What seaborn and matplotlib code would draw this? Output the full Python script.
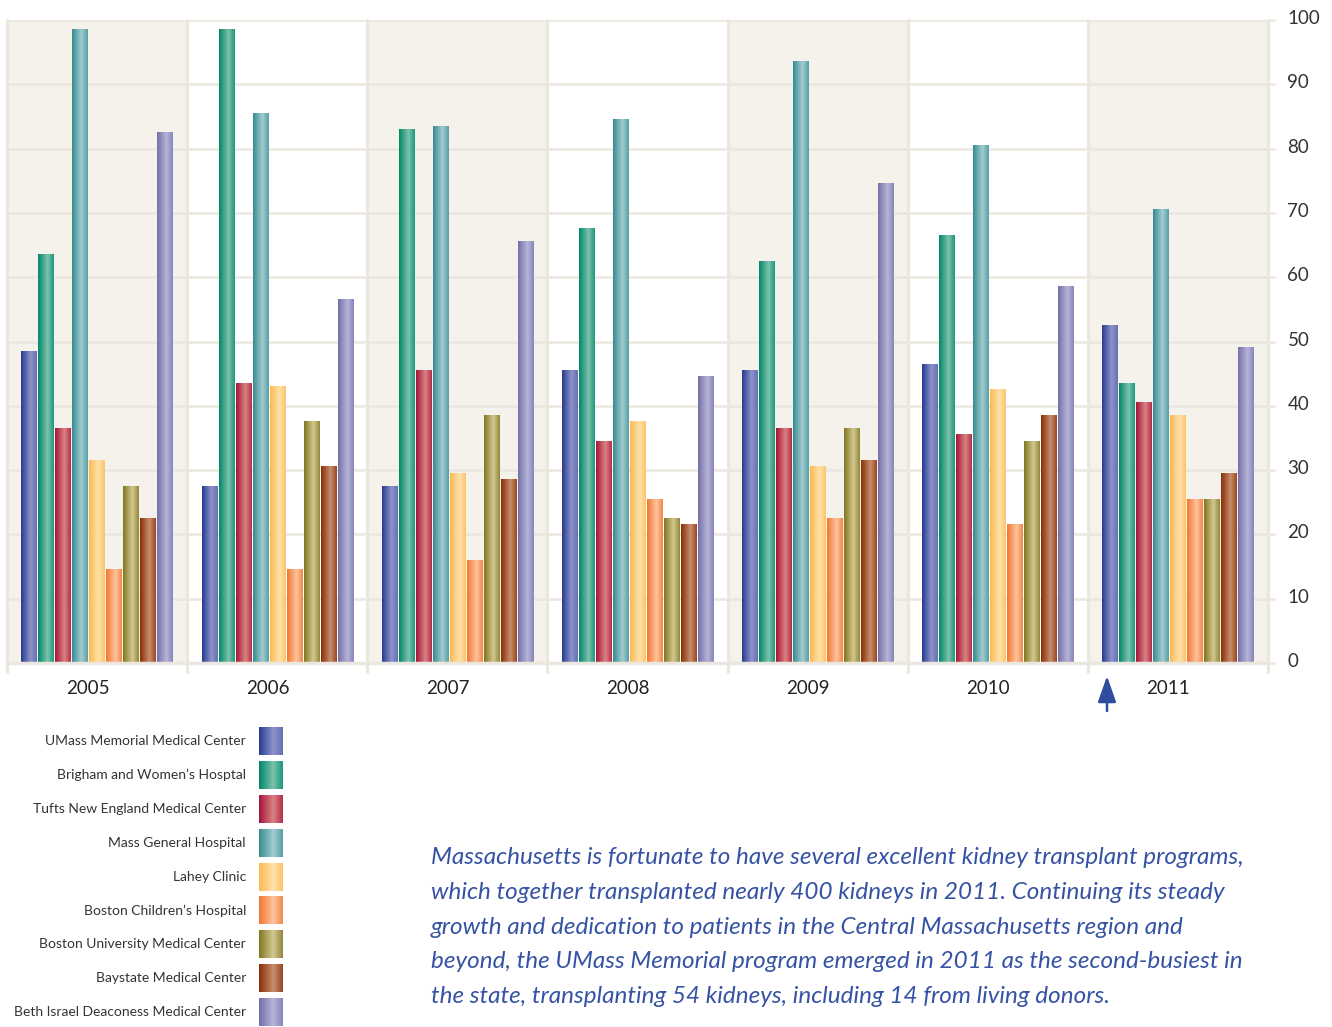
import numpy as np
import pandas as pd
import matplotlib
matplotlib.use('Agg')
import matplotlib.pyplot as plt
import matplotlib.transforms as mtransforms
from matplotlib.colors import LinearSegmentedColormap
import seaborn as sns

# --- data (kidney transplants per centre) ---
years = ['2005', '2006', '2007', '2008', '2009', '2010', '2011']
centers = [
    'UMass Memorial Medical Center',
    'Brigham and Women\u2019s Hosptal',
    'Tufts New England Medical Center',
    'Mass General Hospital',
    'Lahey Clinic',
    'Boston Children\u2019s Hospital',
    'Boston University Medical Center',
    'Baystate Medical Center',
    'Beth Israel Deaconess Medical Center',
]
umass = [48.5, 27.5, 27.5, 45.5, 45.5, 46.5, 52.5]
brigham = [63.5, 98.5, 83, 67.5, 62.5, 66.5, 43.5]
tufts = [36.5, 43.5, 45.5, 34.5, 36.5, 35.5, 40.5]
mgh = [98.5, 85.5, 83.5, 84.5, 93.5, 80.5, 70.5]
lahey = [31.5, 43, 29.5, 37.5, 30.5, 42.5, 38.5]
childrens = [14.5, 14.5, 16, 25.5, 22.5, 21.5, 25.5]
bu = [27.5, 37.5, 38.5, 22.5, 36.5, 34.5, 25.5]
baystate = [22.5, 30.5, 28.5, 21.5, 31.5, 38.5, 29.5]
bidmc = [82.5, 56.5, 65.5, 44.5, 74.5, 58.5, 49]
series = [umass, brigham, tufts, mgh, lahey, childrens, bu, baystate, bidmc]

y_ticks = [0, 10, 20, 30, 40, 50, 60, 70, 80, 90, 100]

# (dark edge, light centre, right edge) for the metallic bar look
shades = [
    ('#263b92', '#8e93c9', '#6670b5'),
    ('#00876b', '#7ec2ac', '#1c987e'),
    ('#a6143a', '#d98383', '#b52e49'),
    ('#378b93', '#a2cdd0', '#589fa6'),
    ('#fcba52', '#ffe2ab', '#fdc46a'),
    ('#f37630', '#fdc49e', '#f58949'),
    ('#82771f', '#d3c991', '#928839'),
    ('#873005', '#c98d6d', '#984822'),
    ('#7470a8', '#b6b4d7', '#8885b9'),
]
cmaps = [LinearSegmentedColormap.from_list('s%d' % i, [(0, a), (0.6, b), (1, c)])
         for i, (a, b, c) in enumerate(shades)]

BAND = '#f5f2ec'
GRID = '#ebe7df'
TEXT = '#333333'
BLUE = '#3552a4'

rows = []
for name, vals in zip(centers, series):
    for yr, v in zip(years, vals):
        rows.append({'year': yr, 'center': name, 'kidneys': v})
df = pd.DataFrame(rows)

sns.set_style('white')
plt.rcParams['font.family'] = ['Lato', 'DejaVu Sans']

W, H = 1332, 1027
fig = plt.figure(figsize=(W / 100, H / 100), dpi=100)
ax = fig.add_axes([7 / W, 1 - 663 / H, (1268 - 7) / W, (663 - 20) / H])

sns.barplot(data=df, x='year', y='kidneys', hue='center', hue_order=centers,
            palette=[s[0] for s in shades], width=0.85, gap=0.1,
            legend=False, ax=ax, zorder=3, linewidth=0)

# metallic gradient on top of every bar
grad = np.linspace(0, 1, 64).reshape(1, -1)
bars = [p for p in ax.patches]
for i, p in enumerate(bars):
    hue_idx = i // len(years)
    x0, w, h = p.get_x(), p.get_width(), p.get_height()
    ax.imshow(grad, cmap=cmaps[hue_idx], extent=(x0, x0 + w, 0, h),
              aspect='auto', interpolation='bilinear', zorder=4)

ax.set_xlim(-0.5, len(years) - 0.5)
ax.set_ylim(0, 100)

# alternating bands, grid, separators
for k in range(len(years)):
    if k % 2 == 0:
        ax.axvspan(k - 0.5, k + 0.5, color=BAND, zorder=0, lw=0)
for t in y_ticks[1:]:
    ax.axhline(t, color=GRID, lw=1.8, zorder=1)
ax.axhline(0, color=GRID, lw=2.5, zorder=5, clip_on=False)
for k in range(len(years) + 1):
    ax.plot([k - 0.5, k - 0.5], [-1.4, 100], color=GRID, lw=2.2,
            zorder=1 if 0 < k < len(years) else 2, clip_on=False)

for s in ax.spines.values():
    s.set_visible(False)
ax.yaxis.tick_right()
ax.set_yticks(y_ticks)
ax.tick_params(axis='y', length=5, width=1.8, color=GRID, pad=9,
               labelsize=13.5, labelcolor=TEXT)
ax.tick_params(axis='x', length=0, pad=12, labelsize=13.5, labelcolor='#222222')
ax.set_xlabel('')
ax.set_ylabel('')
ax.grid(False)

# year labels sit a little left of the group centre, y labels a little high
shift_x = mtransforms.ScaledTranslation(-9.5 / 100, 0, fig.dpi_scale_trans)
for lbl in ax.get_xticklabels():
    lbl.set_transform(lbl.get_transform() + shift_x)
shift_y = mtransforms.ScaledTranslation(0, 3 / 100, fig.dpi_scale_trans)
for lbl in ax.get_yticklabels():
    lbl.set_transform(lbl.get_transform() + shift_y)

# overlay in pixel units for legend, arrow and caption
lax = fig.add_axes([0, 0, 1, 1], zorder=10)
lax.patch.set_alpha(0)

for i, name in enumerate(centers):
    yc = 741 + i * 33.9
    lax.imshow(grad, cmap=cmaps[i], extent=(259, 283, yc + 14, yc - 14),
               aspect='auto', interpolation='bilinear')
    lax.text(246, yc, name, ha='right', va='center', fontsize=10, color=TEXT)
lax.set_xlim(0, W)
lax.set_ylim(H, 0)
lax.axis('off')

lax.annotate('', xy=(1107, 676), xytext=(1107, 711),
             arrowprops=dict(arrowstyle='-|>,head_width=0.28,head_length=0.8',
                             mutation_scale=20, color='#2f4d9e', lw=1.8,
                             shrinkA=0, shrinkB=0))

caption = [
    'Massachusetts is fortunate to have several excellent kidney transplant programs,',
    'which together transplanted nearly 400 kidneys in 2011. Continuing its steady',
    'growth and dedication to patients in the Central Massachusetts region and',
    'beyond, the UMass Memorial program emerged in 2011 as the second-busiest in',
    'the state, transplanting 54 kidneys, including 14 from living donors.',
]
for i, line in enumerate(caption):
    lax.text(431, 858 + i * 34.6, line, ha='left', va='center', fontsize=17.5,
             style='italic', color=BLUE)

fig.savefig('out.png', dpi=100)
